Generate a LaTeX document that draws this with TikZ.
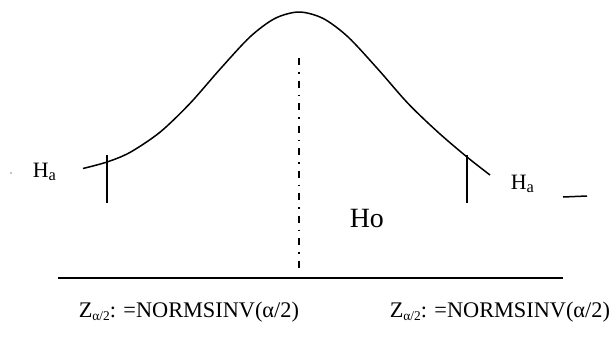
\documentclass[tikz,border=0pt]{standalone}
\usepackage{fontspec}
\setmainfont{Liberation Serif}
\newcommand{\lowsub}[2][.65]{\raisebox{-.35ex}{\scalebox{#1}{#2}}}

\begin{document}
\begin{tikzpicture}[x=1bp,y=-1bp,line width=1.5bp,font=\fontsize{22}{26}\selectfont]
\useasboundingbox (0,0) rectangle (615,341);
% bell curve
\draw plot[smooth] coordinates {(83,168.5) (107,162) (130,152.4) (160,132.2) (190,103.4) (220,69.2) (250,36.9) (275,18.4) (299,12) (323,18.4) (348,36.9) (378,69.2) (408,103.4) (438,132.2) (467,157) (490,175)};
% critical values and mean
\draw (107,155) -- (107,203);
\draw (467,155) -- (467,203);
\draw[line width=2bp,dash pattern=on 7bp off 7bp on 1.5bp off 7bp] (299,58) -- (299,272);
\draw[line width=2bp] (58,278) -- (563,278);
\draw (563,197) -- (587,196);
\fill (11,173) circle (.6);
\node[anchor=base west,inner sep=0] (hal) at (32,177) {H\lowsub[.75]{a}};
\node[anchor=base west,inner sep=0] (har) at (510,189) {H\lowsub[.75]{a}};
\node[anchor=base west,inner sep=0,font=\fontsize{28}{32}\selectfont] (ho) at (349,227) {Ho};
\foreach \x/\n in {78/zl,389/zr}{\node[anchor=base west,inner sep=0,font=\fontsize{22.4}{26}\selectfont] (\n) at (\x,317) {Z\lowsub[.6]{α/2}: =NORMSINV(α/2)};}
\end{tikzpicture}
\end{document}
